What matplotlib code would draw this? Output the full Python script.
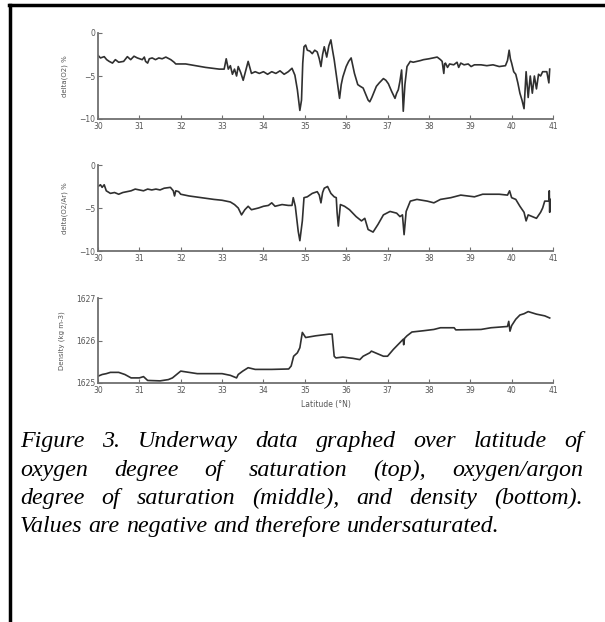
import matplotlib
matplotlib.use("Agg")
import matplotlib.pyplot as plt
from matplotlib.lines import Line2D

# -----------------------------------------------------------------------------
# Data
# -----------------------------------------------------------------------------

LAT_O2 = [
    30.0, 30.06, 30.15, 30.21, 30.27, 30.35, 30.42, 30.5, 30.62, 30.71, 30.79,
    30.87, 30.95, 31.07, 31.12, 31.15, 31.2, 31.24, 31.31, 31.39, 31.47, 31.55,
    31.64, 31.76, 31.84, 31.88, 32.12, 32.36, 32.6, 32.93, 33.05, 33.1, 33.15,
    33.2, 33.25, 33.3, 33.35, 33.39, 33.45, 33.51, 33.57, 33.63, 33.71, 33.8,
    33.9, 34.0, 34.1, 34.2, 34.3, 34.4, 34.5, 34.6, 34.69, 34.76, 34.82, 34.88,
    34.92, 34.95, 34.98, 35.02, 35.06, 35.12, 35.18, 35.24, 35.30, 35.35, 35.39,
    35.43, 35.47, 35.53, 35.58, 35.63, 35.67, 35.71, 35.78, 35.84, 35.88, 35.92,
    36.0, 36.06, 36.12, 36.16, 36.2, 36.28, 36.34, 36.41, 36.48, 36.53, 36.57,
    36.62, 36.73, 36.8, 36.9, 36.96, 37.02, 37.1, 37.18, 37.22, 37.26, 37.3,
    37.34, 37.36, 37.38, 37.42, 37.47, 37.55, 37.62, 37.71, 37.8, 37.87, 38.0,
    38.1, 38.2, 38.28, 38.32, 38.36, 38.38, 38.4, 38.45, 38.5, 38.6, 38.68,
    38.72, 38.77, 38.85, 38.95, 39.02, 39.1, 39.26, 39.4, 39.55, 39.7, 39.85,
    39.9, 39.94, 39.97, 40.0, 40.05, 40.1, 40.15, 40.2, 40.25, 40.3, 40.35,
    40.4, 40.45, 40.5, 40.55, 40.6, 40.65, 40.7, 40.75, 40.85, 40.9, 40.92,
]
DELTA_O2 = [
    -2.6, -2.9, -2.75, -3.1, -3.3, -3.5, -3.1, -3.4, -3.3, -2.75, -3.1,
    -2.7, -2.9, -3.1, -2.8, -3.3, -3.5, -3.0, -2.9, -3.1, -2.9, -3.0,
    -2.8, -3.1, -3.4, -3.6, -3.6, -3.8, -4.0, -4.2, -4.2, -3.0, -4.2,
    -3.8, -4.8, -4.2, -5.0, -3.9, -4.6, -5.5, -4.4, -3.3, -4.7, -4.5,
    -4.7, -4.5, -4.8, -4.5, -4.7, -4.4, -4.8, -4.5, -4.1, -4.9, -6.6, -9.0,
    -7.8, -3.5, -1.6, -1.4, -2.0, -2.1, -2.4, -2.0, -2.2, -3.0, -3.9,
    -2.5, -1.6, -2.8, -1.5, -0.8, -2.0, -3.1, -5.5, -7.6, -6.0, -5.1,
    -3.9, -3.3, -2.9, -3.8, -4.7, -6.0, -6.2, -6.4, -7.2, -7.8, -8.0,
    -7.5, -6.2, -5.8, -5.3, -5.5, -5.9, -6.8, -7.6, -7.0, -6.6, -5.6,
    -4.3, -6.5, -9.1, -6.0, -3.9, -3.3, -3.4, -3.3, -3.2, -3.1, -3.0,
    -2.9, -2.8, -3.1, -3.3, -4.7, -3.6, -3.5, -4.0, -3.6, -3.7, -3.4,
    -4.0, -3.5, -3.7, -3.6, -3.9, -3.7, -3.7, -3.8, -3.7, -3.9, -3.8,
    -3.2, -2.0, -3.0, -3.5, -4.5, -4.8, -5.8, -7.0, -7.8, -8.8, -4.5,
    -7.5, -5.0, -7.0, -5.0, -6.5, -4.8, -5.0, -4.5, -4.5, -5.8, -4.2,
]

LAT_O2AR = [
    30.0, 30.06, 30.1, 30.15, 30.2, 30.3, 30.4, 30.5, 30.6, 30.7, 30.8, 30.9,
    31.0, 31.1, 31.2, 31.3, 31.4, 31.5, 31.6, 31.75, 31.82, 31.85, 31.88, 31.95,
    32.0, 32.2, 32.5, 32.8, 33.0, 33.2, 33.3, 33.39, 33.47, 33.55, 33.63, 33.71,
    33.88, 34.0, 34.12, 34.2, 34.28, 34.45, 34.6, 34.69, 34.72, 34.77, 34.84,
    34.88, 34.94, 34.98, 35.06, 35.18, 35.30, 35.35, 35.39, 35.43, 35.47, 35.55,
    35.63, 35.71, 35.76, 35.78, 35.81, 35.86, 35.96, 36.08, 36.24, 36.37, 36.45,
    36.53, 36.65, 36.77, 36.9, 37.06, 37.22, 37.3, 37.36, 37.4, 37.45, 37.55,
    37.71, 37.96, 38.12, 38.28, 38.53, 38.77, 39.1, 39.3, 39.5, 39.7, 39.9,
    39.95, 40.0, 40.1, 40.2, 40.3, 40.35, 40.4, 40.5, 40.6, 40.7, 40.75, 40.8,
    40.9, 40.91, 40.92, 40.93,
]
DELTA_O2AR = [
    -2.5, -2.3, -2.6, -2.3, -3.0, -3.3, -3.2, -3.4, -3.2, -3.1, -3.0, -2.8,
    -2.9, -3.0, -2.8, -2.9, -2.8, -2.9, -2.7, -2.6, -3.0, -3.6, -3.0, -3.1,
    -3.4, -3.6, -3.8, -4.0, -4.1, -4.3, -4.6, -5.0, -5.8, -5.2, -4.8, -5.2,
    -5.0, -4.8, -4.7, -4.4, -4.8, -4.6, -4.7, -4.7, -3.8, -4.8, -7.7,
    -8.8, -6.5, -3.8, -3.7, -3.3, -3.1, -3.5, -4.4, -3.2, -2.7, -2.5,
    -3.3, -3.7, -3.8, -5.5, -7.1, -4.6, -4.8, -5.2, -6.0, -6.5, -6.2,
    -7.5, -7.8, -6.9, -5.8, -5.4, -5.6, -6.0, -5.8, -8.1, -5.4, -4.2,
    -4.0, -4.2, -4.4, -4.0, -3.8, -3.5, -3.7, -3.4, -3.4, -3.4, -3.5,
    -3.0, -3.8, -4.0, -4.8, -5.5, -6.5, -5.8, -6.0, -6.2, -5.5, -5.0, -4.2,
    -4.2, -3.0, -5.5, -4.0,
]

LAT_DENS = [
    30.0, 30.1, 30.2, 30.3, 30.5, 30.65, 30.8, 31.0, 31.1, 31.2, 31.5, 31.7,
    31.8, 31.9, 32.0, 32.2, 32.4, 32.6, 33.0, 33.2, 33.35, 33.39, 33.5, 33.63,
    33.8, 34.2, 34.61, 34.67, 34.73, 34.82, 34.88, 34.94, 35.02, 35.26, 35.59,
    35.66, 35.71, 35.75, 35.92, 36.16, 36.33, 36.41, 36.49, 36.57, 36.61, 36.73,
    36.9, 37.0, 37.14, 37.3, 37.38, 37.39, 37.41, 37.47, 37.59, 37.87, 38.12,
    38.28, 38.61, 38.65, 39.26, 39.5, 39.9, 39.93, 39.96, 40.0, 40.1, 40.2,
    40.3, 40.4, 40.5, 40.6, 40.8, 40.92,
]
DENSITY = [
    1625.16, 1625.2, 1625.22, 1625.25, 1625.25, 1625.2, 1625.12, 1625.12,
    1625.15, 1625.06, 1625.05, 1625.08, 1625.12, 1625.2, 1625.28, 1625.25,
    1625.22, 1625.22, 1625.22, 1625.18, 1625.12, 1625.2, 1625.28, 1625.36,
    1625.32, 1625.32, 1625.33, 1625.4, 1625.63, 1625.71, 1625.83, 1626.19,
    1626.07, 1626.11, 1626.15, 1626.15, 1625.63, 1625.59, 1625.61, 1625.58,
    1625.55, 1625.63, 1625.67, 1625.71, 1625.75, 1625.70, 1625.63, 1625.63,
    1625.79, 1625.95, 1626.03, 1625.9, 1626.05, 1626.11, 1626.2, 1626.23,
    1626.26, 1626.3, 1626.3, 1626.25, 1626.26, 1626.3, 1626.33, 1626.45,
    1626.22, 1626.35, 1626.5, 1626.6, 1626.63, 1626.68, 1626.65, 1626.62,
    1626.58, 1626.53,
]

LAT_TICKS = list(range(30, 42))
SAT_TICKS = [-10, -5, 0]
DENS_TICKS = [1625, 1626, 1627]

CAPTION_LINES = [
    "Figure 3. Underway data graphed over latitude of",
    "oxygen degree of saturation (top), oxygen/argon",
    "degree of saturation (middle), and density (bottom).",
    "Values are negative and therefore undersaturated.",
]

# -----------------------------------------------------------------------------
# Style
# -----------------------------------------------------------------------------

W, H = 605, 622
LINE_COLOR = "#303030"
AXIS_COLOR = "#707070"
TEXT_COLOR = "#555555"
TICK_FS = 5.5
CAPTION_FS = 17.3


def px_box(left, top, right, bottom):
    return [left / W, 1 - bottom / H, (right - left) / W, (bottom - top) / H]


def style_axes(ax, yticks, ylabel):
    for side in ("top", "right"):
        ax.spines[side].set_visible(False)
    for side in ("left", "bottom"):
        ax.spines[side].set_color(AXIS_COLOR)
        ax.spines[side].set_linewidth(1.3)
    ax.set_xlim(30, 41)
    ax.set_xticks(LAT_TICKS)
    ax.set_yticks(yticks)
    ax.set_ylim(yticks[0], yticks[-1])
    ax.tick_params(direction="in", length=3, width=0.8, colors=AXIS_COLOR,
                   labelcolor=TEXT_COLOR, labelsize=TICK_FS, pad=2)
    ax.set_ylabel(ylabel, fontsize=5, color=TEXT_COLOR, labelpad=8)


def draw_caption(fig, lines, left, right, baselines):
    renderer = fig.canvas.get_renderer()
    kw = dict(fontsize=CAPTION_FS, family="Liberation Serif", style="italic",
              va="baseline", ha="left", color="black")
    probe_two = fig.text(0, 0, "a a", **kw)
    probe_one = fig.text(0, 0, "a", **kw)
    space = (probe_two.get_window_extent(renderer).width
             - 2 * probe_one.get_window_extent(renderer).width)
    probe_two.remove()
    probe_one.remove()
    for i, (line, y) in enumerate(zip(lines, baselines)):
        words = line.split(" ")
        texts = [fig.text(0, 1 - y / H, w, **kw) for w in words]
        widths = [t.get_window_extent(renderer).width for t in texts]
        if i < len(lines) - 1 and len(words) > 1:
            gap = (right - left - sum(widths)) / (len(words) - 1)
        else:
            gap = space
        x = left
        for t, wd in zip(texts, widths):
            t.set_x(x / W)
            x += wd + gap


# -----------------------------------------------------------------------------
# Plot
# -----------------------------------------------------------------------------


def plot():
    fig = plt.figure(figsize=(W / 100, H / 100), dpi=100)

    ax1 = fig.add_axes(px_box(98, 33, 553, 119))
    ax1.plot(LAT_O2, DELTA_O2, color=LINE_COLOR, lw=1.2)
    style_axes(ax1, SAT_TICKS, "delta(O2) %")

    ax2 = fig.add_axes(px_box(98, 165, 553, 251))
    ax2.plot(LAT_O2AR, DELTA_O2AR, color=LINE_COLOR, lw=1.2)
    style_axes(ax2, SAT_TICKS, "delta(O2/Ar) %")

    ax3 = fig.add_axes(px_box(98, 298, 553, 383))
    ax3.plot(LAT_DENS, DENSITY, color=LINE_COLOR, lw=1.2)
    style_axes(ax3, DENS_TICKS, "Density (kg m-3)")
    ax3.set_xlabel("Latitude (\u00b0N)", fontsize=5.5, color=TEXT_COLOR, labelpad=4)

    # page frame (top and left edges)
    fig.add_artist(Line2D([9 / W, 1], [1 - 5 / H] * 2, color="black", lw=2.5,
                          transform=fig.transFigure))
    fig.add_artist(Line2D([10 / W] * 2, [0, 1 - 5 / H], color="black", lw=2.5,
                          transform=fig.transFigure))

    draw_caption(fig, CAPTION_LINES, 20, 583, [447, 476, 504, 532])

    fig.savefig("out.png", dpi=100)
    plt.close(fig)


if __name__ == "__main__":
    plot()
